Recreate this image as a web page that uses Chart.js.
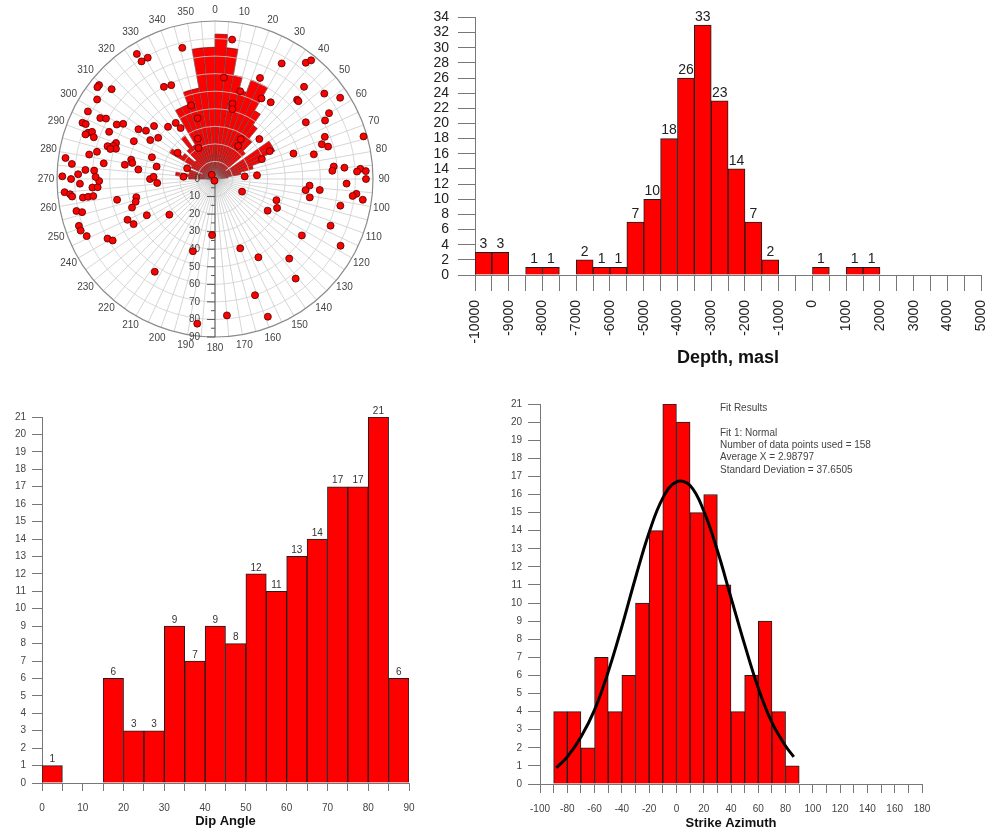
<!DOCTYPE html>
<html>
<head>
<meta charset="utf-8">
<title>Fracture statistics</title>
<script src="https://cdn.jsdelivr.net/npm/chart.js@4.4.0/dist/chart.umd.min.js"></script>
<style>
  html, body { margin: 0; padding: 0; background: #fff; }
  body { width: 1007px; height: 834px; position: relative; overflow: hidden; }
  canvas { position: absolute; }
</style>
</head>
<body>
<canvas id="roseChart" width="400" height="360" style="left:0;top:0"></canvas>
<canvas id="poleChart" width="400" height="360" style="left:0;top:0"></canvas>
<canvas id="depthChart" width="607" height="380" style="left:400px;top:0"></canvas>
<canvas id="dipChart" width="430" height="444" style="left:0;top:390px"></canvas>
<canvas id="strikeChart" width="537" height="444" style="left:470px;top:390px"></canvas>
<script>
// ---- data ----

// poles: [azimuth (deg, clockwise from N), dip angle (deg)]
const poles = [
  [7, 80], [5, 58], [30, 76], [38, 84], [39, 87], [24, 63], [16, 52], [13, 44], [14, 41], [30, 53],
  [36, 54], [44, 73], [46, 65], [47, 65], [52, 79], [57, 85], [60, 75], [62, 71], [58, 61], [74, 88],
  [69, 67], [72, 64], [74, 67], [48, 34], [33, 27], [35, 23], [72, 47], [76, 58], [63, 35], [67, 29],
  [84, 68], [86, 67], [85, 74], [86, 83], [87, 81], [87, 86], [90, 86], [92, 75], [85, 17], [85, 24],
  [94, 54], [97, 52], [96, 60], [101, 55], [96, 81], [97, 79], [98, 85], [115, 17], [109, 37], [115, 39],
  [121, 35], [102, 73], [112, 71], [123, 59], [118, 81], [160, 42], [151, 51], [137, 62], [141, 73], [161, 70],
  [175, 78], [159, 84], [322, 3], [200, 1],
  [183, 32], [197, 43], [213, 63], [187, 83], [232, 33], [242, 44], [251, 50], [257, 46], [254, 47], [258, 57],
  [245, 55], [241, 53], [241, 70], [239, 68], [251, 82], [249, 82], [246, 80], [257, 81], [256, 78], [265, 86],
  [264, 83], [263, 82], [262, 76], [262, 73], [262, 70], [266, 70], [266, 67], [269, 66], [268, 77], [270, 82],
  [270, 37], [272, 35], [266, 33], [274, 18], [271, 87], [272, 78], [274, 69], [271, 68], [274, 74],
  [346, 77], [328, 84], [328, 79], [331, 79], [331, 60], [335, 59], [309, 85], [308, 85], [311, 78], [304, 81],
  [298, 82], [298, 74], [299, 71], [293, 82], [293, 80], [299, 64], [301, 61], [303, 52], [305, 48], [311, 46],
  [318, 40], [325, 39], [326, 35], [290, 77], [291, 75], [289, 73], [289, 78], [294, 66], [295, 51], [301, 43],
  [306, 40], [290, 60], [288, 61], [287, 64], [287, 59], [286, 62], [283, 69], [281, 73], [278, 86], [276, 82],
  [278, 64], [283, 49], [281, 48], [279, 52], [277, 44], [289, 38], [282, 34], [291, 17], [305, 26], [342, 44],
  [344, 36], [337, 25], [332, 20]
];

// rose diagram, 5 degree sectors starting at north, clockwise
const roseCounts = [
  11, 10, 8, 7, 8, 8, 6, 5, 4, 3, 1, 5, 5, 4, 3, 2, 1, 0,
  0, 0, 0, 0, 0, 0, 0, 0, 0, 0, 0, 0, 0, 0, 0, 0, 0, 0,
  0, 0, 0, 0, 0, 0, 0, 0, 0, 0, 0, 0, 0, 0, 0, 0, 0, 0,
  2, 3, 2, 2, 1, 2, 4, 3, 2, 3, 4, 3, 6, 6, 7, 7, 10, 10
];
const azimuthLabels = [0, 10, 20, 30, 40, 50, 60, 70, 80, 90, 100, 110, 120, 130, 140, 150, 160, 170,
  180, 190, 200, 210, 220, 230, 240, 250, 260, 270, 280, 290, 300, 310, 320, 330, 340, 350];
const dipLabels = [0, 10, 20, 30, 40, 50, 60, 70, 80, 90];

// depth histogram, 500 m bins
const depthBinStart = [-10000, -9500, -9000, -8500, -8000, -7500, -7000, -6500, -6000, -5500, -5000, -4500,
  -4000, -3500, -3000, -2500, -2000, -1500, -1000, -500, 0, 500, 1000, 1500];
const depthCounts = [3, 3, 0, 1, 1, 0, 2, 1, 1, 7, 10, 18, 26, 33, 23, 14, 7, 2, 0, 0, 1, 0, 1, 1];

// dip angle histogram, 5 degree bins
const dipBinStart = [0, 5, 10, 15, 20, 25, 30, 35, 40, 45, 50, 55, 60, 65, 70, 75, 80, 85];
const dipCounts = [1, 0, 0, 6, 3, 3, 9, 7, 9, 8, 12, 11, 13, 14, 17, 17, 21, 6];

// strike azimuth histogram, 10 degree bins
const strikeBinStart = [-90, -80, -70, -60, -50, -40, -30, -20, -10, 0, 10, 20, 30, 40, 50, 60, 70, 80];
const strikeCounts = [4, 4, 2, 7, 4, 6, 10, 14, 21, 20, 15, 16, 11, 4, 6, 9, 4, 1];

// normal fit curve as drawn
const fitX = [-88, -80, -70, -60, -50, -40, -30, -20, -10, 0, 10, 20, 30, 40, 50, 60, 70, 80, 86];
const fitY = [0.9, 1.5, 2.6, 4.1, 6.2, 8.7, 11.4, 13.9, 15.8, 16.7, 16.5, 15.1, 12.9, 10.3, 7.7, 5.3, 3.4, 2.1, 1.5];
const fitText = ['Fit Results', '', 'Fit 1: Normal', 'Number of data points used = 158',
  'Average X = 2.98797', 'Standard Deviation = 37.6505'];

// ---- drawing ----

const FONT = "'Liberation Sans', Arial, sans-serif";
Chart.defaults.font.family = FONT;
Chart.defaults.animation = false;
Chart.defaults.plugins.legend.display = false;
Chart.defaults.plugins.tooltip.enabled = false;

function valueLabels(size, color) {
  return {
    id: "valueLabels",
    afterDatasetsDraw(chart) {
      const ctx = chart.ctx;
      const meta = chart.getDatasetMeta(0);
      const data = chart.data.datasets[0].data;
      ctx.save();
      ctx.font = size + "px " + FONT;
      ctx.fillStyle = color;
      ctx.textAlign = "center";
      ctx.textBaseline = "bottom";
      meta.data.forEach((bar, i) => {
        if (data[i].y > 0) ctx.fillText(String(data[i].y), bar.x, bar.y - 1);
      });
      ctx.restore();
    },
  };
}

// stereonet-like grid: rings of dip, spokes of azimuth, vertical dip axis
const polarGrid = {
  id: "polarGrid",
  beforeDatasetsDraw(chart) {
    const ctx = chart.ctx;
    const xs = chart.scales.x;
    const ys = chart.scales.y;
    const cx = xs.getPixelForValue(0);
    const cy = ys.getPixelForValue(0);
    const perDip = (xs.getPixelForValue(90) - cx) / 90;
    const outer = 90 * perDip;
    ctx.save();

    ctx.strokeStyle = "rgba(160,160,160,0.55)";
    ctx.lineWidth = 0.8;
    for (let a = 0; a < 360; a += 5) {
      const t = (a * Math.PI) / 180;
      ctx.beginPath();
      ctx.moveTo(cx, cy);
      ctx.lineTo(cx + outer * Math.sin(t), cy - outer * Math.cos(t));
      ctx.stroke();
    }
    ctx.strokeStyle = "#cfcfcf";
    for (let d = 10; d < 90; d += 10) {
      ctx.beginPath();
      ctx.arc(cx, cy, d * perDip, 0, Math.PI * 2);
      ctx.stroke();
    }
    ctx.strokeStyle = "#8c8c8c";
    ctx.lineWidth = 1.2;
    ctx.beginPath();
    ctx.arc(cx, cy, outer, 0, Math.PI * 2);
    ctx.stroke();

    ctx.font = "10px " + FONT;
    ctx.fillStyle = "#444";
    ctx.textAlign = "center";
    ctx.textBaseline = "middle";
    azimuthLabels.forEach((a) => {
      const t = (a * Math.PI) / 180;
      ctx.fillText(String(a), cx + (outer + 11) * Math.sin(t), cy - (outer + 11) * Math.cos(t));
    });

    ctx.strokeStyle = "#555";
    ctx.lineWidth = 1;
    ctx.beginPath();
    ctx.moveTo(cx, cy);
    ctx.lineTo(cx, cy + outer);
    ctx.stroke();
    for (let d = 0; d <= 90; d += 5) {
      const y = cy + d * perDip;
      ctx.beginPath();
      ctx.moveTo(cx - (d % 10 === 0 ? 8 : 4), y);
      ctx.lineTo(cx, y);
      ctx.stroke();
    }
    ctx.textAlign = "right";
    dipLabels.forEach((d) => {
      ctx.fillText(String(d), cx - 15, cy + d * perDip);
    });
    ctx.restore();
  },
};

const fitResults = {
  id: "fitResults",
  afterDraw(chart) {
    const ctx = chart.ctx;
    ctx.save();
    ctx.font = "10px " + FONT;
    ctx.fillStyle = "#444";
    ctx.textBaseline = "middle";
    fitText.forEach((line, i) => {
      ctx.fillText(line, 250, 18 + i * 12.4);
    });
    ctx.restore();
  },
};

function histScales(o) {
  return {
    x: {
      type: "linear",
      min: o.xMin,
      max: o.xMax,
      offset: false,
      afterFit: (s) => { s.height = o.xHeight; },
      grid: { drawOnChartArea: false, offset: false, tickLength: o.xTick, color: "#777" },
      border: { color: "#777" },
      ticks: {
        stepSize: o.xStep,
        autoSkip: false,
        minRotation: o.rotate,
        maxRotation: o.rotate,
        padding: o.xPad,
        color: o.tickColor,
        font: { size: o.xFont },
        callback: (v) => (v % o.xLabelEvery === 0 ? String(v) : ""),
      },
      title: {
        display: true,
        text: o.title,
        color: "#111",
        font: { size: o.titleSize, weight: "bold" },
        padding: { top: 0, bottom: o.titlePad },
      },
    },
    y: {
      min: 0,
      max: o.yMax,
      afterFit: (s) => { s.width = o.yWidth; },
      grid: { drawOnChartArea: false, tickLength: o.yTick, color: "#777" },
      border: { color: "#777" },
      ticks: { stepSize: o.yStep, autoSkip: false, padding: o.yPad, color: o.tickColor, font: { size: o.yFont } },
    },
  };
}

function barSet(starts, counts, width) {
  return {
    type: "bar",
    data: starts.map((s, i) => ({ x: s + width / 2, y: counts[i] })),
    backgroundColor: "#ff0000",
    borderColor: "#1e1e1e",
    borderWidth: 1,
    barPercentage: 1,
    categoryPercentage: 1,
    order: 1,
  };
}

document.addEventListener("DOMContentLoaded", function () {
  // rose underneath, poles on top
  new Chart(document.getElementById("roseChart"), {
    type: "polarArea",
    data: {
      labels: roseCounts.map((c, i) => i * 5),
      datasets: [{ data: roseCounts, backgroundColor: "#ff0000", borderColor: "#6a0000", borderWidth: 0.7 }],
    },
    options: {
      responsive: false,
      layout: { padding: { left: 57, right: 27, top: 21, bottom: 23 } },
      scales: {
        r: {
          min: 0,
          max: 12,
          ticks: { display: false },
          grid: { display: false },
          angleLines: { display: false },
          pointLabels: { display: false },
        },
      },
    },
  });

  new Chart(document.getElementById("poleChart"), {
    type: "scatter",
    data: {
      datasets: [{
        data: poles.map(([az, dip]) => ({
          x: dip * Math.sin((az * Math.PI) / 180),
          y: dip * Math.cos((az * Math.PI) / 180),
        })),
        backgroundColor: "#ff0000",
        borderColor: "#4a0000",
        borderWidth: 0.8,
        pointRadius: 3.5,
      }],
    },
    options: {
      responsive: false,
      layout: { padding: { left: 57, right: 27, top: 21, bottom: 23 } },
      scales: {
        x: { display: false, min: -90, max: 90 },
        y: { display: false, min: -90, max: 90 },
      },
    },
    plugins: [polarGrid],
  });

  new Chart(document.getElementById("depthChart"), {
    type: "bar",
    data: { datasets: [barSet(depthBinStart, depthCounts, 500)] },
    options: {
      responsive: false,
      layout: { padding: { left: 0, right: 10, top: 15, bottom: 0 } },
      scales: histScales({
        xMin: -10000, xMax: 5000, xStep: 500, xLabelEvery: 1000, xHeight: 105, xTick: 16, xPad: 9,
        rotate: 90, xFont: 14, title: "Depth, masl", titleSize: 18, titlePad: 11,
        yMax: 34, yStep: 2, yWidth: 75, yTick: 17, yPad: 9, yFont: 14, tickColor: "#222",
      }),
    },
    plugins: [valueLabels(14, "#222")],
  });

  new Chart(document.getElementById("dipChart"), {
    type: "bar",
    data: { datasets: [barSet(dipBinStart, dipCounts, 5)] },
    options: {
      responsive: false,
      layout: { padding: { left: 0, right: 21, top: 27, bottom: 0 } },
      scales: histScales({
        xMin: 0, xMax: 90, xStep: 5, xLabelEvery: 10, xHeight: 51, xTick: 8, xPad: 11,
        rotate: 0, xFont: 10, title: "Dip Angle", titleSize: 13, titlePad: 5,
        yMax: 21, yStep: 1, yWidth: 42, yTick: 10, yPad: 6, yFont: 10, tickColor: "#444",
      }),
    },
    plugins: [valueLabels(10, "#333")],
  });

  new Chart(document.getElementById("strikeChart"), {
    type: "bar",
    data: {
      datasets: [
        {
          type: "line",
          data: fitX.map((x, i) => ({ x: x, y: fitY[i] })),
          borderColor: "#000",
          borderWidth: 3,
          pointRadius: 0,
          tension: 0.4,
          fill: false,
          order: 0,
        },
        barSet(strikeBinStart, strikeCounts, 10),
      ],
    },
    options: {
      responsive: false,
      layout: { padding: { left: 0, right: 85, top: 14, bottom: 0 } },
      scales: histScales({
        xMin: -100, xMax: 180, xStep: 10, xLabelEvery: 20, xHeight: 50, xTick: 9, xPad: 10,
        rotate: 0, xFont: 10, title: "Strike Azimuth", titleSize: 13, titlePad: 3,
        yMax: 21, yStep: 1, yWidth: 70, yTick: 12, yPad: 6, yFont: 10, tickColor: "#444",
      }),
    },
    plugins: [fitResults],
  });
});
</script>
</body>
</html>
